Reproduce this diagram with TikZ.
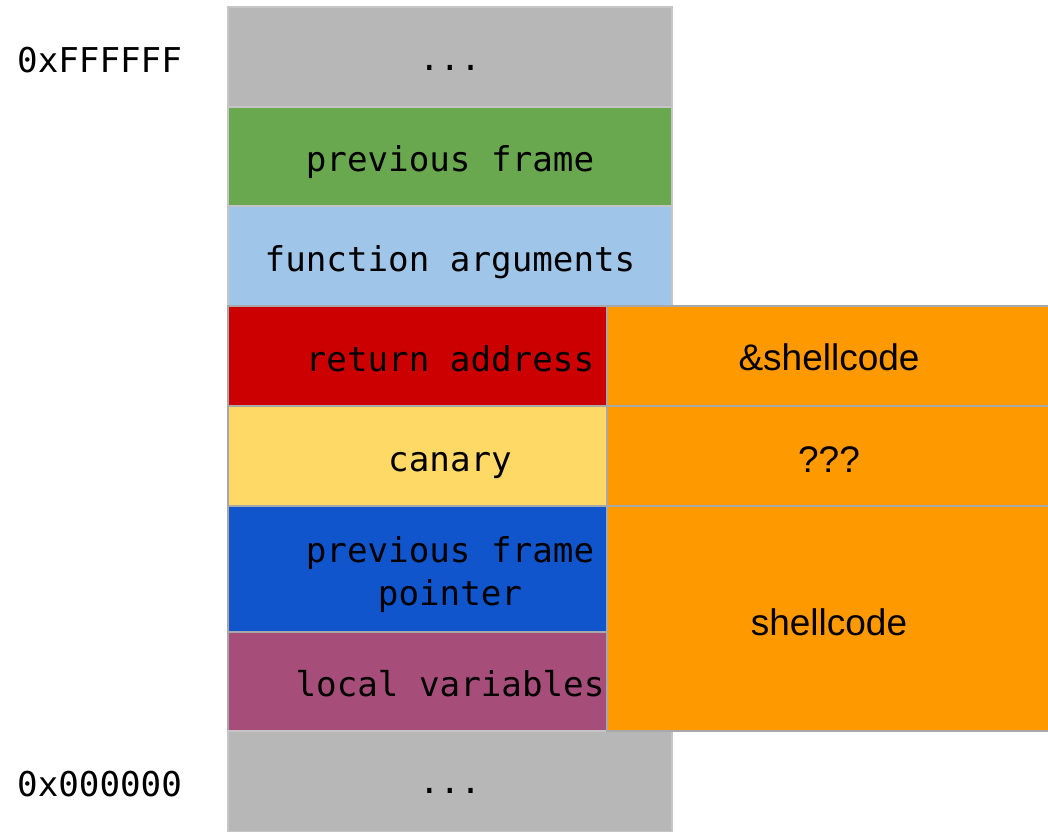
\documentclass[tikz,border=0pt]{standalone}
\usepackage{fontspec}
\setmainfont{Liberation Sans}
\newfontfamily\codefont{DejaVu Sans Mono}
\definecolor{cgray}{HTML}{B7B7B7}
\definecolor{cgreen}{HTML}{6AA84F}
\definecolor{clblue}{HTML}{9FC5E8}
\definecolor{cred}{HTML}{CC0000}
\definecolor{cyellow}{HTML}{FFD966}
\definecolor{cblue}{HTML}{1155CC}
\definecolor{cpurple}{HTML}{A64D79}
\definecolor{corange}{HTML}{FF9900}
\definecolor{cborder}{HTML}{A8A8A8}
\begin{document}
\begin{tikzpicture}[x=1pt,y=-1pt,
  cell/.style={draw=cborder,line width=1.3pt,inner sep=0pt,outer sep=0pt},
  mono/.style={font=\codefont\fontsize{34.2}{43}\selectfont,inner sep=0pt,align=center,text=black,anchor=base},
  sans/.style={font=\fontsize{37}{44}\selectfont,inner sep=0pt,text=black}]
\useasboundingbox (0,0) rectangle (1048,831);
% stack column
\path[cell,draw=cgray!80,fill=cgray] (228,7) rectangle (672,107);
\node[mono] (topdots) at (450,70) {...};
\path[cell,draw=cgray!80,fill=cgreen] (228,107) rectangle (672,206);
\node[mono] (prevframe) at (450,171) {previous frame};
\path[cell,draw=cgray!80,fill=clblue] (228,206) rectangle (672,306);
\node[mono] (args) at (450,271) {function arguments};
\path[cell,fill=cred] (228,306) rectangle (607,406);
\node[mono] (ret) at (450,371) {return address};
\path[cell,fill=cyellow] (228,406) rectangle (607,506);
\node[mono] (canary) at (450,471) {canary};
\path[cell,fill=cblue] (228,506) rectangle (607,632);
\node[mono,anchor=base] (pfp1) at (450,562) {previous frame};
\node[mono,anchor=base] (pfp2) at (450,605) {pointer};
\path[cell,fill=cpurple] (228,632) rectangle (607,731);
\node[mono] (locals) at (450,696) {local variables};
\path[cell,draw=cgray!80,fill=cgray] (228,731) rectangle (672,832);
\node[mono] (botdots) at (450,793) {...};
% overwrite column
\path[cell,fill=corange] (607,306) rectangle (1049,406);
\node[sans] (addr) at (829,357) {\&shellcode};
\path[cell,fill=corange] (607,406) rectangle (1049,506);
\node[sans] (qqq) at (829,460) {???};
\path[cell,fill=corange] (607,506) rectangle (1049,731);
\node[sans] (sc) at (829,622) {shellcode};
% address labels
\node[mono,anchor=base west] (hi) at (17,72) {0xFFFFFF};
\node[mono,anchor=base west] (lo) at (17,796) {0x000000};
\end{tikzpicture}
\end{document}
